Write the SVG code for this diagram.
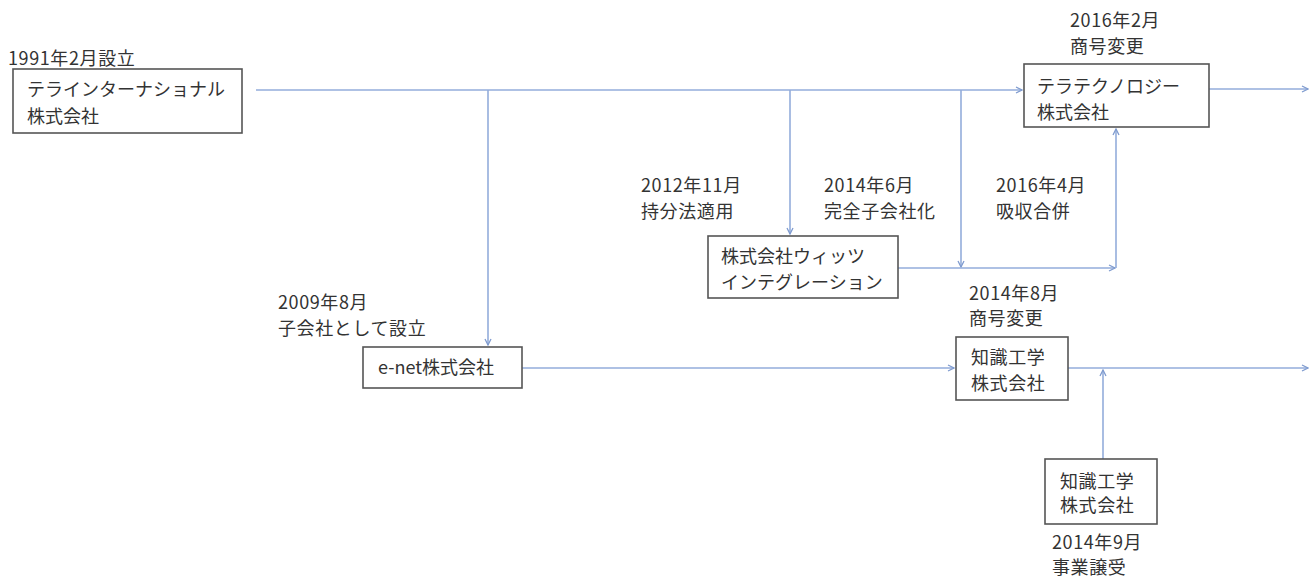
<svg xmlns="http://www.w3.org/2000/svg" width="1314" height="583" viewBox="0 0 1314 583">
<style>
text{font-family:"Noto Sans CJK JP","Noto Sans",sans-serif;font-size:18px;fill:#333}
.lb{letter-spacing:0.6px}
.box{fill:#fff;stroke:#555;stroke-width:1.6}
.ln{fill:none;stroke:#93addb;stroke-width:1.6}
</style>
<defs>
<marker id="ah" markerWidth="8" markerHeight="8" refX="7" refY="4" orient="auto" markerUnits="userSpaceOnUse">
<polyline points="1,1 7,4 1,7" fill="none" stroke="#7f9bcf" stroke-width="1.3"/>
</marker>
</defs>
<g id="connectors">
<line class="ln" x1="256" y1="90" x2="1022" y2="90" marker-end="url(#ah)"/>
<line class="ln" x1="1209" y1="89" x2="1308" y2="89" marker-end="url(#ah)"/>
<line class="ln" x1="488" y1="90" x2="488" y2="345" marker-end="url(#ah)"/>
<line class="ln" x1="790" y1="90" x2="790" y2="234" marker-end="url(#ah)"/>
<line class="ln" x1="961" y1="90" x2="961" y2="267" marker-end="url(#ah)"/>
<line class="ln" x1="898" y1="268" x2="1115" y2="268" marker-end="url(#ah)"/>
<line class="ln" x1="1116" y1="268" x2="1116" y2="129" marker-end="url(#ah)"/>
<line class="ln" x1="522" y1="368" x2="954" y2="368" marker-end="url(#ah)"/>
<line class="ln" x1="1068" y1="368" x2="1308" y2="368" marker-end="url(#ah)"/>
<line class="ln" x1="1103" y1="459" x2="1103" y2="370" marker-end="url(#ah)"/>
</g>
<g id="terra-international">
<text class="lb" x="8" y="65">1991年2月設立</text>
<rect class="box" x="13" y="69" width="229" height="64"/>
<text x="27" y="96">テラインターナショナル</text>
<text x="27" y="123">株式会社</text>
</g>
<g id="terra-technology">
<text class="lb" x="1070" y="27">2016年2月</text>
<text class="lb" x="1070" y="53">商号変更</text>
<rect class="box" x="1024" y="64" width="185" height="63"/>
<text x="1037" y="93">テラテクノロジー</text>
<text x="1037" y="119">株式会社</text>
</g>
<g id="label-2012">
<text class="lb" x="641" y="192">2012年11月</text>
<text class="lb" x="641" y="218">持分法適用</text>
</g>
<g id="label-2014-6">
<text class="lb" x="824" y="192">2014年6月</text>
<text class="lb" x="824" y="218">完全子会社化</text>
</g>
<g id="label-2016-4">
<text class="lb" x="996" y="192">2016年4月</text>
<text class="lb" x="996" y="218">吸収合併</text>
</g>
<g id="witz">
<rect class="box" x="708" y="236" width="190" height="62"/>
<text x="721" y="263">株式会社ウィッツ</text>
<text x="721" y="289">インテグレーション</text>
</g>
<g id="enet">
<text class="lb" x="278" y="309">2009年8月</text>
<text class="lb" x="278" y="335">子会社として設立</text>
<rect class="box" x="363" y="347" width="159" height="41"/>
<text x="378" y="374">e-net株式会社</text>
</g>
<g id="chishiki-kogaku">
<text class="lb" x="969" y="300">2014年8月</text>
<text class="lb" x="969" y="325">商号変更</text>
<rect class="box" x="956" y="337" width="112" height="63"/>
<text class="lb" x="971" y="364">知識工学</text>
<text class="lb" x="971" y="390">株式会社</text>
</g>
<g id="chishiki-kogaku-2">
<rect class="box" x="1045" y="459" width="112" height="65"/>
<text class="lb" x="1060" y="488">知識工学</text>
<text class="lb" x="1060" y="512">株式会社</text>
<text class="lb" x="1052" y="549">2014年9月</text>
<text class="lb" x="1052" y="574">事業譲受</text>
</g>
</svg>
